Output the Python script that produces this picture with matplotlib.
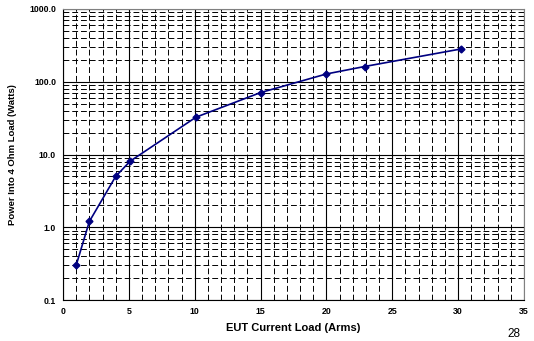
import numpy as np
import matplotlib.pyplot as plt
from matplotlib.ticker import FixedLocator, FuncFormatter, LogLocator, MultipleLocator

# EUT current (Arms) vs power into 4 ohm load (W)
current = [1, 2, 4, 5.1, 10.1, 15, 20, 22.9, 30.2]
power = [0.3, 1.2, 5.0, 8.1, 32.6, 71, 128, 162, 282]

plt.rcParams['font.family'] = ['Liberation Sans', 'DejaVu Sans']

fig = plt.figure(figsize=(5.34, 3.41), dpi=100)
ax = fig.add_axes([63 / 534, 1 - 300 / 341, 461 / 534, 291 / 341])

ax.set_yscale('log')
ax.set_xlim(0, 35)
ax.set_ylim(0.1, 1000)

ax.xaxis.set_major_locator(MultipleLocator(5))
ax.xaxis.set_minor_locator(MultipleLocator(1))
ax.yaxis.set_major_locator(FixedLocator([0.1, 1, 10, 100, 1000]))
ax.yaxis.set_minor_locator(LogLocator(base=10, subs=np.arange(2, 10)))
ax.yaxis.set_major_formatter(FuncFormatter(lambda v, p: '%.1f' % v))
ax.yaxis.set_minor_formatter(FuncFormatter(lambda v, p: ''))

ax.grid(which='major', color='black', linewidth=0.8)
ax.grid(which='minor', color='black', linewidth=0.7, linestyle=(0, (6, 3)))
ax.set_axisbelow(True)

ax.tick_params(which='both', length=0, labelsize=6.3, pad=5)
for lab in ax.get_xticklabels() + ax.get_yticklabels():
    lab.set_fontweight('bold')

for sp in ax.spines.values():
    sp.set_linewidth(0.8)
ax.spines['right'].set_color('#808080')
ax.spines['top'].set_color('#808080')

ax.plot(current, power, color='#000080', linewidth=1.2, marker='D', markersize=3.5)

ax.set_xlabel('EUT Current Load (Arms)', fontsize=8, fontweight='bold', labelpad=5)
ax.set_ylabel('Power Into 4 Ohm Load (Watts)', fontsize=6.8, fontweight='bold', labelpad=9)

fig.text(514 / 534, 1 - 337 / 341, '28', fontsize=8.5, ha='center', va='baseline')

fig.savefig('out.png', dpi=100)
